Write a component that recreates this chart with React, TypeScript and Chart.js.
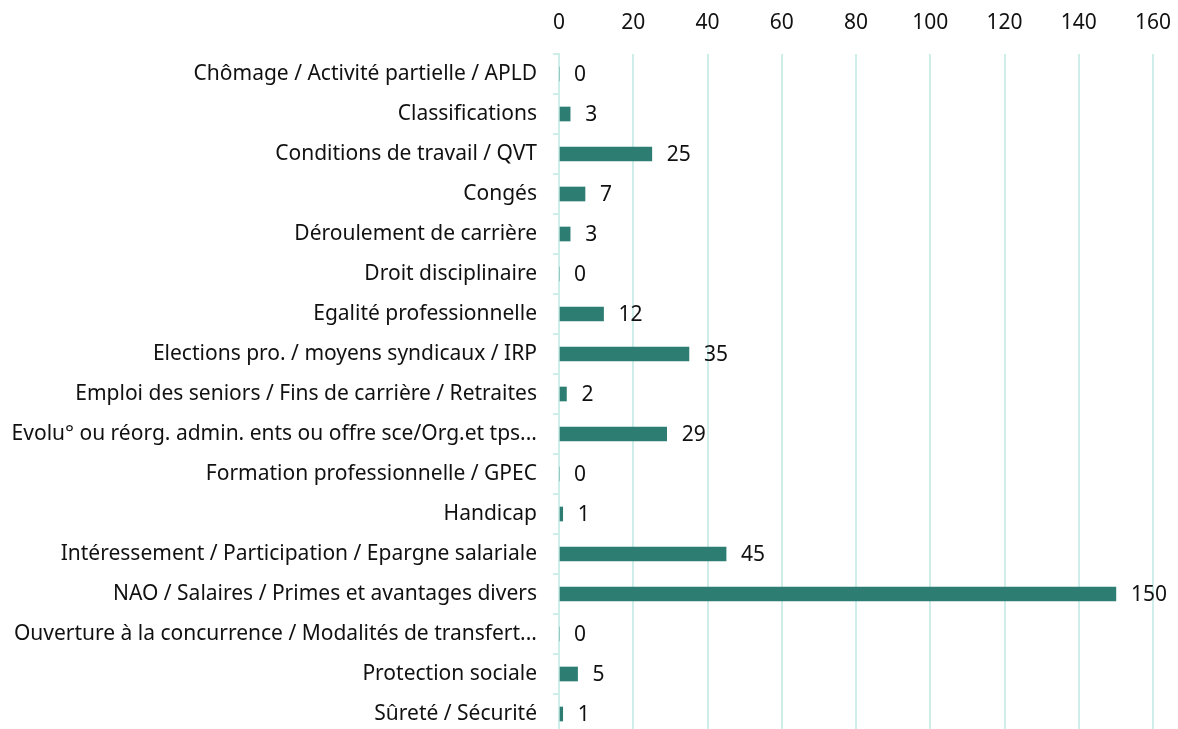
import React, { useEffect, useRef } from "react";
import { Chart, registerables } from "chart.js";

Chart.register(...registerables);

const categories = [
  "Chômage / Activité partielle / APLD",
  "Classifications",
  "Conditions de travail / QVT",
  "Congés",
  "Déroulement de carrière",
  "Droit disciplinaire",
  "Egalité professionnelle",
  "Elections pro. / moyens syndicaux / IRP",
  "Emploi des seniors / Fins de carrière / Retraites",
  "Evolu° ou réorg. admin. ents ou offre sce/Org.et tps...",
  "Formation professionnelle / GPEC",
  "Handicap",
  "Intéressement / Participation / Epargne salariale",
  "NAO / Salaires / Primes et avantages divers",
  "Ouverture à la concurrence / Modalités de transfert...",
  "Protection sociale",
  "Sûreté / Sécurité",
];

const values = [0, 3, 25, 7, 3, 0, 12, 35, 2, 29, 0, 1, 45, 150, 0, 5, 1];

const xMin = 0;
const xMax = 160;
const xStep = 20;

const FONT = "'Noto Sans', sans-serif";
const SIZE = 21;
const TEXT = "#111111";
const GRID = "#cdeee9";
const BAR = "#2e7d73";

const labelPlugin = {
  id: "valueLabels",
  afterDatasetsDraw(chart: any) {
    const ctx = chart.ctx;
    const meta = chart.getDatasetMeta(0);
    ctx.save();
    ctx.font = `${SIZE}px ${FONT}`;
    ctx.fillStyle = TEXT;
    ctx.textAlign = "left";
    ctx.textBaseline = "middle";
    meta.data.forEach((el: any, i: number) => {
      ctx.fillText(String(values[i]), el.x + 15, el.y + 1);
    });
    ctx.restore();
  },
};

export default function App() {
  const ref = useRef<HTMLCanvasElement | null>(null);
  useEffect(() => {
    if (!ref.current) return;
    const chart = new Chart(ref.current, {
      type: "bar",
      data: {
        labels: categories,
        datasets: [
          {
            data: values,
            backgroundColor: BAR,
            barThickness: 14,
          },
        ],
      },
      options: {
        indexAxis: "y",
        animation: false,
        responsive: false,
        maintainAspectRatio: false,
        layout: { padding: { top: 0, right: 25, bottom: 0, left: 0 } },
        plugins: { legend: { display: false }, tooltip: { enabled: false } },
        scales: {
          x: {
            position: "top",
            min: xMin,
            max: xMax,
            ticks: {
              stepSize: xStep,
              color: TEXT,
              font: { family: FONT, size: SIZE },
              padding: 18,
            },
            grid: { color: GRID, lineWidth: 2, drawTicks: false },
            border: { display: false },
            afterFit: (s: any) => {
              s.height = 54;
              s.paddingLeft = 0;
              s.paddingRight = 0;
            },
          },
          y: {
            ticks: {
              color: TEXT,
              font: { family: FONT, size: SIZE },
              padding: 16,
            },
            grid: {
              offset: true,
              drawOnChartArea: false,
              drawTicks: true,
              tickLength: 6,
              color: GRID,
              lineWidth: 2,
            },
            border: { display: true, color: GRID, width: 2 },
            afterFit: (s: any) => {
              s.width = 559;
              s.paddingTop = 0;
              s.paddingBottom = 0;
            },
          },
        },
      },
      plugins: [labelPlugin],
    });
    return () => chart.destroy();
  }, []);
  return (
    <div style={{ position: "absolute", left: 0, top: 0, width: 1178, height: 729, overflow: "hidden", background: "#fff" }}>
      <canvas ref={ref} width={1178} height={734} style={{ width: 1178, height: 734, display: "block" }} />
    </div>
  );
}
